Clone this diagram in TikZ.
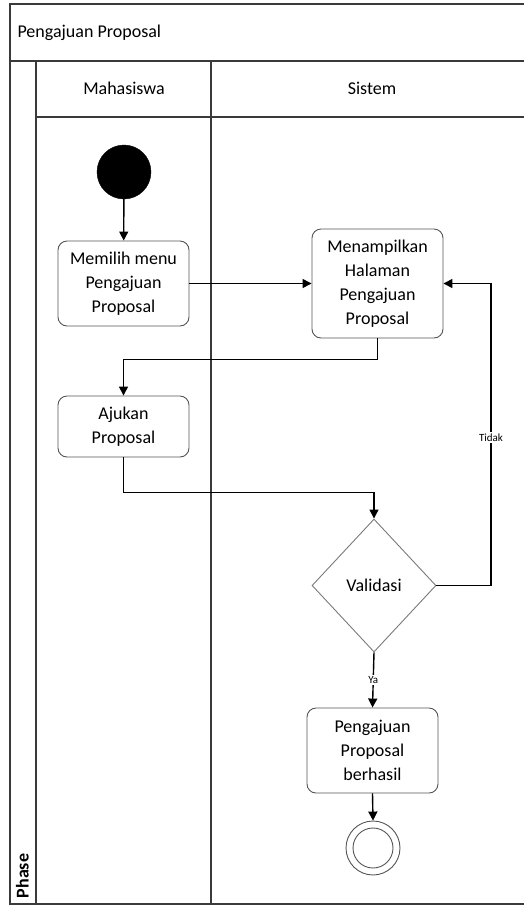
\documentclass[tikz,border=0pt]{standalone}
\usepackage{fontspec}
\setmainfont{Carlito}
\usetikzlibrary{arrows.meta,shapes.geometric}
\definecolor{frameline}{HTML}{3A3A3A}
\definecolor{boxline}{HTML}{555555}
\definecolor{diamline}{HTML}{7A7A7A}
\tikzset{
  frame/.style={draw=frameline, line width=1.1pt},
  actbox/.style={draw=boxline, line width=0.9pt, rounded corners=9pt,
    minimum width=131pt, align=center, inner sep=2pt,
    font=\fontsize{18}{24}\selectfont},
  decision/.style={diamond, draw=diamline, line width=0.9pt, inner sep=0pt,
    minimum width=124pt, minimum height=133pt, font=\fontsize{18}{24}\selectfont},
  startnode/.style={circle, fill=black, draw=black, minimum size=54pt, inner sep=0pt},
  endouter/.style={circle, draw=boxline, line width=0.9pt, minimum size=54pt, inner sep=0pt},
  endinner/.style={circle, draw=boxline, line width=0.9pt, minimum size=40pt, inner sep=0pt},
  flow/.style={draw=black, line width=1.4pt, -{Triangle[length=9pt,width=9pt]}},
  guard/.style={fill=white, inner sep=1.5pt, font=\fontsize{11}{13}\selectfont},
  lanetitle/.style={font=\fontsize{18}{22}\selectfont}
}
\begin{document}
\begin{tikzpicture}[x=1pt,y=-1pt]
\useasboundingbox (0,0) rectangle (524,906);

% swimlane frame
\draw[frame] (524,4) -- (10,4) -- (10,904) -- (524,904);
\draw[frame] (10,61) -- (524,61);
\draw[frame] (36,61) -- (36,904);
\draw[frame] (36,117) -- (524,117);
\draw[frame] (211,61) -- (211,904);

\node[lanetitle, anchor=west] (title) at (14,33) {Pengajuan Proposal};
\node[lanetitle] (lanemhs) at (124,88) {Mahasiswa};
\node[lanetitle] (lanesys) at (372,88) {Sistem};
\node[rotate=90, font=\fontsize{18}{22}\selectfont\bfseries] (phase) at (22.5,876) {Phase};

% activities
\node[startnode] (start) at (124,172) {};
\node[actbox, minimum height=85pt] (memilih) at (123.5,283.5) {Memilih menu\\Pengajuan\\Proposal};
\node[actbox, minimum height=109pt] (tampil) at (377.5,283.5) {Menampilkan\\Halaman\\Pengajuan\\Proposal};
\node[actbox, minimum height=61pt] (ajukan) at (123.5,426.5) {Ajukan\\Proposal};
\node[decision] (validasi) at (374,585.5) {Validasi};
\node[actbox, minimum height=85pt] (berhasil) at (372.5,750.5) {Pengajuan\\Proposal\\berhasil};
\node[endouter] (end) at (373,848) {};
\node[endinner] (endcore) at (373,848) {};

\coordinate (loop) at (491,585.5);

% control flow
\draw[flow] (start) -- (memilih);
\draw[flow] (memilih.east) -- (tampil.west);
\draw[flow] (tampil.south) -- ++(0,21) -| (ajukan.north);
\draw[flow] (ajukan.south) -- ++(0,35) -| (validasi.north);
\draw[flow] (validasi.east) -- (loop) |- node[guard, pos=0.245] {Tidak} (tampil.east);
\draw[flow] (validasi.south) -- node[guard, pos=0.5] {Ya} (berhasil.north);
\draw[flow] (berhasil.south) -- (end.north);
\end{tikzpicture}
\end{document}
